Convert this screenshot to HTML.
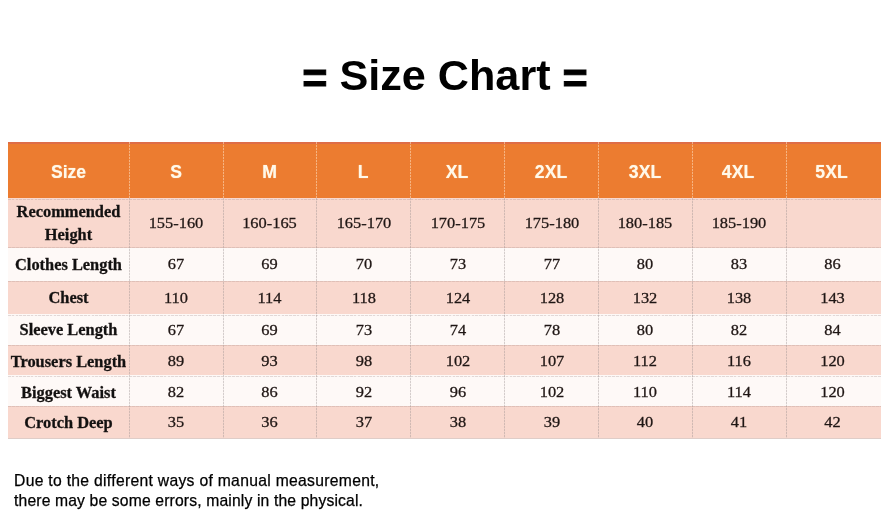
<!DOCTYPE html>
<html lang="en"><head><meta charset="utf-8"><title>Size Chart</title>
<style>
html,body{margin:0;padding:0;background:#fff;}
body{width:890px;height:529px;position:relative;overflow:hidden;font-family:"Liberation Serif",serif;}
.title{position:absolute;left:0;top:51.3px;width:890px;text-align:center;font:bold 43.2px/48px "Liberation Sans",sans-serif;color:#000;white-space:nowrap;}
.title span{display:inline-block;position:relative;top:2.7px;-webkit-text-stroke:1px #000;}
.tbl{position:absolute;left:8px;top:142px;width:873px;height:295.5px;box-shadow:0 1px 0 #dfcdc8;}
.row{position:absolute;left:0;width:873px;}
.c{position:absolute;top:0;height:100%;display:flex;align-items:center;justify-content:center;text-align:center;box-sizing:border-box;white-space:nowrap;}
.h .c{font:bold 17.6px/20px "Liberation Sans",sans-serif;color:#fff8ea;text-shadow:0 0 1px rgba(255,240,200,.8);padding-top:1px;}
.b .c{font:16.4px/22.7px "Liberation Serif",serif;color:#1f1614;-webkit-text-stroke:0.3px #1f1614;transform:translateY(var(--o,0px)) scaleY(0.95);}
.b .c.l{font-weight:bold;color:#111;line-height:23px;transform:translateY(var(--lo,0px));}
.vl{position:absolute;top:0;width:1px;background:repeating-linear-gradient(180deg,rgba(150,140,140,.4) 0 2px,rgba(150,140,140,.12) 2px 3px);}
.hl{position:absolute;left:0;width:873px;height:1px;background:repeating-linear-gradient(90deg,rgba(160,140,140,.3) 0 2.6px,rgba(160,140,140,.06) 2.6px 3.8px);}
.hl.sl{background:repeating-linear-gradient(90deg,rgba(170,140,135,.32) 0 3px,rgba(170,140,135,.2) 3px 4px);}
.note{position:absolute;left:14px;font:15.7px/20px "Liberation Sans",sans-serif;color:#000;white-space:nowrap;-webkit-text-stroke:0.25px #000;}
</style></head><body>
<div class="title"><span>=</span> Size Chart <span>=</span></div>
<div class="tbl">
<div class="row h" style="top:0px;height:56px;background:#ec7c30;border-top:2px solid #de6d47;box-sizing:border-box"><div class="c l" style="left:0px;width:121px">Size</div><div class="c" style="left:121px;width:94px">S</div><div class="c" style="left:215px;width:93px">M</div><div class="c" style="left:308px;width:94px">L</div><div class="c" style="left:402px;width:94px">XL</div><div class="c" style="left:496px;width:94px">2XL</div><div class="c" style="left:590px;width:94px">3XL</div><div class="c" style="left:683px;width:94px">4XL</div><div class="c" style="left:776px;width:95px">5XL</div></div>
<div class="row b" style="top:56px;height:50px;background:#f9d8ce;--o:0px;--lo:0px"><div class="c l" style="left:0px;width:121px">Recommended<br>Height</div><div class="c" style="left:121px;width:94px">155-160</div><div class="c" style="left:215px;width:93px">160-165</div><div class="c" style="left:309px;width:94px">165-170</div><div class="c" style="left:403px;width:94px">170-175</div><div class="c" style="left:497px;width:94px">175-180</div><div class="c" style="left:590px;width:94px">180-185</div><div class="c" style="left:684px;width:94px">185-190</div><div class="c" style="left:777px;width:95px"></div></div>
<div class="row b" style="top:106px;height:33px;background:#fef9f7;--o:0px;--lo:0px"><div class="c l" style="left:0px;width:121px">Clothes Length</div><div class="c" style="left:121px;width:94px">67</div><div class="c" style="left:215px;width:93px">69</div><div class="c" style="left:309px;width:94px">70</div><div class="c" style="left:403px;width:94px">73</div><div class="c" style="left:497px;width:94px">77</div><div class="c" style="left:590px;width:94px">80</div><div class="c" style="left:684px;width:94px">83</div><div class="c" style="left:777px;width:95px">86</div></div>
<div class="row b" style="top:139px;height:33px;background:#f9d8ce;--o:1px;--lo:0px"><div class="c l" style="left:0px;width:121px">Chest</div><div class="c" style="left:121px;width:94px">110</div><div class="c" style="left:215px;width:93px">114</div><div class="c" style="left:309px;width:94px">118</div><div class="c" style="left:403px;width:94px">124</div><div class="c" style="left:497px;width:94px">128</div><div class="c" style="left:590px;width:94px">132</div><div class="c" style="left:684px;width:94px">138</div><div class="c" style="left:777px;width:95px">143</div></div>
<div class="row b" style="top:172px;height:31px;background:#fef9f7;--o:1px;--lo:0px"><div class="c l" style="left:0px;width:121px">Sleeve Length</div><div class="c" style="left:121px;width:94px">67</div><div class="c" style="left:215px;width:93px">69</div><div class="c" style="left:309px;width:94px">73</div><div class="c" style="left:403px;width:94px">74</div><div class="c" style="left:497px;width:94px">78</div><div class="c" style="left:590px;width:94px">80</div><div class="c" style="left:684px;width:94px">82</div><div class="c" style="left:777px;width:95px">84</div></div>
<div class="row b" style="top:203px;height:30px;background:#f9d8ce;--o:1px;--lo:1px"><div class="c l" style="left:0px;width:121px">Trousers Length</div><div class="c" style="left:121px;width:94px">89</div><div class="c" style="left:215px;width:93px">93</div><div class="c" style="left:309px;width:94px">98</div><div class="c" style="left:403px;width:94px">102</div><div class="c" style="left:497px;width:94px">107</div><div class="c" style="left:590px;width:94px">112</div><div class="c" style="left:684px;width:94px">116</div><div class="c" style="left:777px;width:95px">120</div></div>
<div class="row b" style="top:233px;height:31px;background:#fef9f7;--o:2px;--lo:2px"><div class="c l" style="left:0px;width:121px">Biggest Waist</div><div class="c" style="left:121px;width:94px">82</div><div class="c" style="left:215px;width:93px">86</div><div class="c" style="left:309px;width:94px">92</div><div class="c" style="left:403px;width:94px">96</div><div class="c" style="left:497px;width:94px">102</div><div class="c" style="left:590px;width:94px">110</div><div class="c" style="left:684px;width:94px">114</div><div class="c" style="left:777px;width:95px">120</div></div>
<div class="row b" style="top:264px;height:31.5px;background:#f9d8ce;--o:1px;--lo:1px"><div class="c l" style="left:0px;width:121px">Crotch Deep</div><div class="c" style="left:121px;width:94px">35</div><div class="c" style="left:215px;width:93px">36</div><div class="c" style="left:309px;width:94px">37</div><div class="c" style="left:403px;width:94px">38</div><div class="c" style="left:497px;width:94px">39</div><div class="c" style="left:590px;width:94px">40</div><div class="c" style="left:684px;width:94px">41</div><div class="c" style="left:777px;width:95px">42</div></div>
<div class="vl" style="left:121px;height:56px;background:repeating-linear-gradient(180deg,rgba(255,225,195,.55) 0 2px,rgba(255,225,195,.1) 2px 3px)"></div>
<div class="vl" style="left:121px;top:56px;height:239.5px"></div>
<div class="vl" style="left:215px;height:56px;background:repeating-linear-gradient(180deg,rgba(255,225,195,.55) 0 2px,rgba(255,225,195,.1) 2px 3px)"></div>
<div class="vl" style="left:215px;top:56px;height:239.5px"></div>
<div class="vl" style="left:308px;height:56px;background:repeating-linear-gradient(180deg,rgba(255,225,195,.55) 0 2px,rgba(255,225,195,.1) 2px 3px)"></div>
<div class="vl" style="left:308px;top:56px;height:239.5px"></div>
<div class="vl" style="left:402px;height:56px;background:repeating-linear-gradient(180deg,rgba(255,225,195,.55) 0 2px,rgba(255,225,195,.1) 2px 3px)"></div>
<div class="vl" style="left:402px;top:56px;height:239.5px"></div>
<div class="vl" style="left:496px;height:56px;background:repeating-linear-gradient(180deg,rgba(255,225,195,.55) 0 2px,rgba(255,225,195,.1) 2px 3px)"></div>
<div class="vl" style="left:496px;top:56px;height:239.5px"></div>
<div class="vl" style="left:590px;height:56px;background:repeating-linear-gradient(180deg,rgba(255,225,195,.55) 0 2px,rgba(255,225,195,.1) 2px 3px)"></div>
<div class="vl" style="left:590px;top:56px;height:239.5px"></div>
<div class="vl" style="left:684px;height:56px;background:repeating-linear-gradient(180deg,rgba(255,225,195,.55) 0 2px,rgba(255,225,195,.1) 2px 3px)"></div>
<div class="vl" style="left:684px;top:56px;height:239.5px"></div>
<div class="vl" style="left:778px;height:56px;background:repeating-linear-gradient(180deg,rgba(255,225,195,.55) 0 2px,rgba(255,225,195,.1) 2px 3px)"></div>
<div class="vl" style="left:778px;top:56px;height:239.5px"></div>
<div class="hl" style="top:57px"></div>
<div class="hl sl" style="top:105px"></div>
<div class="hl sl" style="top:139px"></div>
<div class="hl" style="top:173px"></div>
<div class="hl sl" style="top:203px"></div>
<div class="hl" style="top:234px"></div>
<div class="hl sl" style="top:264px"></div>
</div>
<div class="note" style="top:470.5px;letter-spacing:0.3px">Due to the different ways of manual measurement,</div><div class="note" style="top:491.1px;letter-spacing:0.15px">there may be some errors, mainly in the physical.</div>
</body></html>
